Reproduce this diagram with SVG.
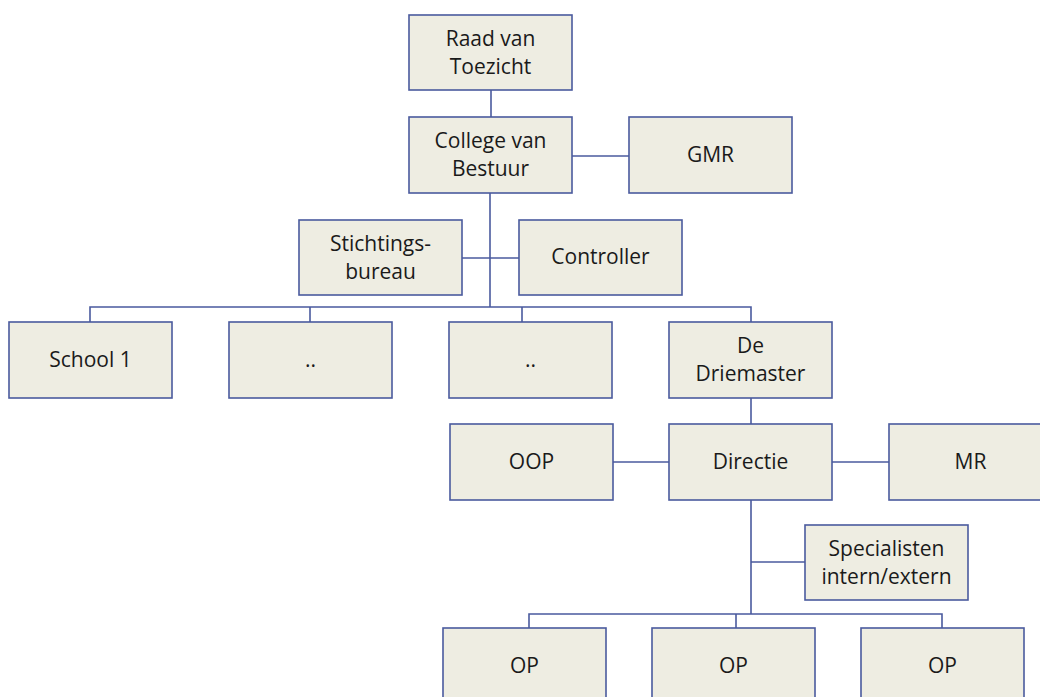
<svg xmlns="http://www.w3.org/2000/svg" width="1040" height="697" viewBox="0 0 1040 697">
<style>
.box{fill:#EEEDE2;stroke:#4A5A9E;stroke-width:1.6}
.lbl{font-family:"Open Sans","Liberation Sans",sans-serif;font-size:21px;fill:#1a1a1a;text-anchor:middle}
.ln{stroke:#4A5A9E;stroke-width:1.6;fill:none}
</style>
<rect width="1040" height="697" fill="#ffffff"/>
<g id="connectors">
<line class="ln" x1="491" y1="90" x2="491" y2="117"/>
<line class="ln" x1="572" y1="156" x2="629" y2="156"/>
<line class="ln" x1="490" y1="193" x2="490" y2="307"/>
<line class="ln" x1="462" y1="258" x2="519" y2="258"/>
<polyline class="ln" points="90,322 90,307 751,307 751,322"/>
<line class="ln" x1="310" y1="307" x2="310" y2="322"/>
<line class="ln" x1="522" y1="307" x2="522" y2="322"/>
<line class="ln" x1="751" y1="398" x2="751" y2="424"/>
<line class="ln" x1="613" y1="462" x2="669" y2="462"/>
<line class="ln" x1="832" y1="462" x2="889" y2="462"/>
<line class="ln" x1="751" y1="500" x2="751" y2="614"/>
<line class="ln" x1="751" y1="562" x2="805" y2="562"/>
<polyline class="ln" points="529,628 529,614 942,614 942,628"/>
<line class="ln" x1="736" y1="614" x2="736" y2="628"/>
</g>
<g id="raad"><rect class="box" x="409" y="15" width="163" height="75"/><text class="lbl" x="490.5" y="46">Raad van</text><text class="lbl" x="490.5" y="74">Toezicht</text></g>
<g id="college"><rect class="box" x="409" y="117" width="163" height="76"/><text class="lbl" x="490.5" y="148">College van</text><text class="lbl" x="490.5" y="176">Bestuur</text></g>
<g id="gmr"><rect class="box" x="629" y="117" width="163" height="76"/><text class="lbl" x="710.5" y="162">GMR</text></g>
<g id="stichtingsbureau"><rect class="box" x="299" y="220" width="163" height="75"/><text class="lbl" x="380.5" y="251">Stichtings-</text><text class="lbl" x="380.5" y="279">bureau</text></g>
<g id="controller"><rect class="box" x="519" y="220" width="163" height="75"/><text class="lbl" x="600.5" y="264">Controller</text></g>
<g id="school1"><rect class="box" x="9" y="322" width="163" height="76"/><text class="lbl" x="90.5" y="367">School 1</text></g>
<g id="school2"><rect class="box" x="229" y="322" width="163" height="76"/><text class="lbl" x="310.5" y="367">..</text></g>
<g id="school3"><rect class="box" x="449" y="322" width="163" height="76"/><text class="lbl" x="530.5" y="367">..</text></g>
<g id="driemaster"><rect class="box" x="669" y="322" width="163" height="76"/><text class="lbl" x="750.5" y="353">De</text><text class="lbl" x="750.5" y="381">Driemaster</text></g>
<g id="oop"><rect class="box" x="450" y="424" width="163" height="76"/><text class="lbl" x="531.5" y="469">OOP</text></g>
<g id="directie"><rect class="box" x="669" y="424" width="163" height="76"/><text class="lbl" x="750.5" y="469">Directie</text></g>
<g id="mr"><rect class="box" x="889" y="424" width="163" height="76"/><text class="lbl" x="970.5" y="469">MR</text></g>
<g id="specialisten"><rect class="box" x="805" y="525" width="163" height="75"/><text class="lbl" x="886.5" y="556">Specialisten</text><text class="lbl" x="886.5" y="584">intern/extern</text></g>
<g id="op1"><rect class="box" x="443" y="628" width="163" height="76"/><text class="lbl" x="524.5" y="673">OP</text></g>
<g id="op2"><rect class="box" x="652" y="628" width="163" height="76"/><text class="lbl" x="733.5" y="673">OP</text></g>
<g id="op3"><rect class="box" x="861" y="628" width="163" height="76"/><text class="lbl" x="942.5" y="673">OP</text></g>
</svg>
